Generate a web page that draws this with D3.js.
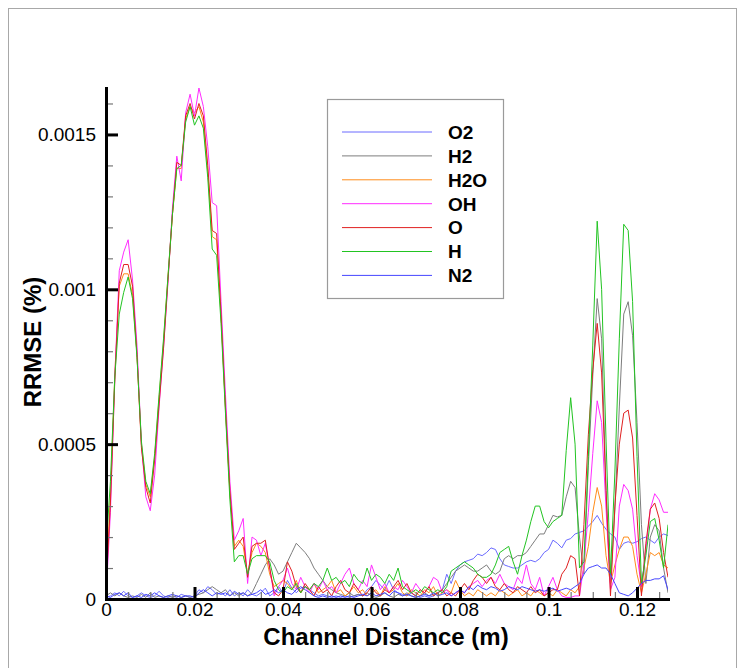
<!DOCTYPE html>
<html>
<head>
<meta charset="utf-8">
<script src="https://cdn.jsdelivr.net/npm/d3@7"></script>
<style>
  html, body { margin: 0; padding: 0; background: #fff; }
  svg { display: block; font-family: "Liberation Sans", Arial, Helvetica, sans-serif; }
</style>
</head>
<body>
<svg id="chart" width="745" height="668"></svg>
<script>
// Sample positions along the channel, in millimetres (1 mm spacing)
const distanceMm = [
  0,1,2,3,4,5,6,7,8,9,10,11,12,13,14,15,16,17,18,19,
  20,21,22,23,24,25,26,27,28,29,30,31,32,33,34,35,36,37,38,39,
  40,41,42,43,44,45,46,47,48,49,50,51,52,53,54,55,56,57,58,59,
  60,61,62,63,64,65,66,67,68,69,70,71,72,73,74,75,76,77,78,79,
  80,81,82,83,84,85,86,87,88,89,90,91,92,93,94,95,96,97,98,99,
  100,101,102,103,104,105,106,107,108,109,110,111,112,113,114,115,116,117,118,119,
  120,121,122,123,124,125,126,127
];

// RRMSE per species, in units of 1e-5 %
const O2 = [
  0.5,1,2,1,2.5,1,0.5,1,2,1,
  0.5,1,2.5,1,0.5,1,0.5,1.5,1,0.5,
  1,3,2,4,3,1.5,2,1,3,1,
  2,1,3,1.5,1,2,3.5,1,2,4,
  2,6,3.5,2,3.5,4,3,2,1,1.5,
  1,0.5,1,0.5,1,0.5,1,1.5,1,3,
  4,6,4.5,3,6,3,2,1.5,1,2,
  1,0.5,1,0.5,1,2,3,8,5,9,
  11,12,12.5,13,14.5,14,15,16.5,16,13,
  11,10.5,10,10,11,12,12.5,12,13,15,
  16,19,18,16.5,19,19.5,21,21.5,22,23.5,
  25,27,24.5,22.5,21,20,16,18,18.5,18,
  18.5,19.5,20,19,18,20,21,20.5
];
const H2 = [
  1,2,1,2,1,0.5,1,0.5,1.5,0.5,
  2,0.5,1,0.5,1,0.5,1,0.5,1,0.5,
  1,1.5,2,3,4,3,2,3,1,2,
  1,2,1,2,5,8,11,13,11,8,
  9,12,15,18,16.5,15,13,10,8,6,
  4,3,2,1.5,1,2,1,1.5,1,2,
  1,0.5,1,2,1,0.5,1.5,1,2,1,
  0.5,1,2,1,1.5,2,3,5,7,9,
  10,11,10,9,9,10,11,9,8,9,
  13,14,13,14,14,15,17,19,21,21,
  24,27,26.5,27,33,38,36,20,8,43,
  72,97,84,35,5,29,62,92,96,85,
  57,24,5,20,24,22,10,2
];
const H2O = [
  5,33,73,101,105,105,98,79,50,37,
  33,46,65,83,104,124,139,139,155,159,
  157,159,154,138,117,116,91,61,34,17,
  19,17,8,15,18,17,15,8,4,5,
  6,5,3,6,2,4,3,5,2,3,
  4,6,2,3,1,2,4,2,3,1,
  2,3,1,4,2,3,5,2,1,3,
  2,1,3,2,4,1,2,3,2,6,
  3,1,2,1,3,2,1,2,1,3,
  2,1,2,3,1,2,1,3,2,1,
  2,1,3,2,1,3,2,4,10,17,
  28,36,30,14,5,11,16,20,20,17,
  8,2,8,15,14,15,11,10
];
const OH = [
  0.5,28,72,106,112,116,103,82,50,33,
  28.5,40,62,81,102,126,143,135,157,163,
  156,165,159,146,128,127,96,66,38,19,
  22,26,5,20,19,14,18,10,1,4,
  6,10,5,3,7,4,2,5,3,6,
  3,4,2,5,8,10,5,3,6,4,
  11,7,3,5,2,4,3,6,4,2,
  5,3,2,4,7,6,2,3,1,2,
  3,2,4,5,6,4,6,7,5,8,
  5,4,3,7,5,11,5,3,7,1,
  4,7,3,1,0.5,0.5,1,1,11,28,
  47,64,57,29,3,7,30,37,35,29,
  14,4,16,29,34,32,28,28
];
const O = [
  3,31,71,102,108,108,101,79,49,36,
  31,45,63,81,103,124,141,140,156,160,
  155,160,156,140,119,118,92,62,35,16,
  18,20,7,17,18,18,19,10,2,1,
  3,12,9,4,2,5,3,1,4,2,
  3,1,4,6,3,2,5,3,1,2,
  4,2,1,3,2,4,6,3,5,2,
  1,3,2,4,1,2,3,1,2,1,
  3,5,3,6,8,7,5,7,4,3,
  5,3,2,4,3,2,4,2,3,1,
  2,3,3,8,10,14,13,1,24,53,
  74,89,73,35,1,30,50,60,61,52,
  27,1,18,29,31,26,15,7
];
const H = [
  16,38,72,92,99,104,97,78,51,38,
  34,47,66,84,104,124,139,140,154,159,
  153,156,152,136,113,111,89,60,32,12,
  14,14,8,13,14,14,14,12,6,3,
  2,4,3,5,2,4,3,5,4,6,
  10,6,7,5,6,4,8,6,5,10,
  6,8,7,5,8,6,10,4,3,2,
  3,2,4,3,2,3,2,4,9,10,
  11,12,11,10,8,7,7,8,11,15,
  16,17,12,8,14,19,25,30,30,25,
  23,25,26,27,48,65,50,10,12,46,
  82,122,100,51,8,41,84,121,119,96,
  46,5,14,25,26,19,10,24
];
const N2 = [
  1,0.5,1.5,2,1,2,0.5,1,0.5,1.5,
  1,2,1,0.5,1,1.5,1,0.5,1,1,
  0.5,2,3,2,1,2,1.5,2,1,2.5,
  1.5,2,1,1.5,2,3,1.5,2,3,2,
  3,2,1.5,3,4,3,2,1,0.5,1,
  0.5,1,0.5,1,0.5,1,0.5,1,1.5,1,
  2,1,1.5,2,1,2.5,2,1,1.5,1,
  0.5,1,1.5,1,2,1,1.5,2,1,2,
  3,2,4,3,4.5,3.5,3,4,3.5,2.5,
  3,4,3.5,3,4,3.5,3,2.5,3,2.5,
  3,3.5,2.5,3,3.5,3,4,5,8,10,
  10.5,11,10,10,8,5,2,1.5,1,2,
  3.5,5,6,6,6.5,6.5,7.5,3
];
const UNIT = 1e-5;

const speciesNames = ["O2", "H2", "H2O", "OH", "O", "H", "N2"];
const speciesValues = { O2, H2, H2O, OH, O, H, N2 };

const xTickValues = [0, 0.02, 0.04, 0.06, 0.08, 0.1, 0.12];
const xTickLabels = ["0", "0.02", "0.04", "0.06", "0.08", "0.1", "0.12"];
const xMinorTicks = [0.005, 0.01, 0.015, 0.025, 0.03, 0.035, 0.045, 0.05, 0.055,
  0.065, 0.07, 0.075, 0.085, 0.09, 0.095, 0.105, 0.11, 0.115, 0.125];
const yTickValues = [0, 0.0005, 0.001, 0.0015];
const yTickLabels = ["0", "0.0005", "0.001", "0.0015"];
const yMinorTicks = [0.0001, 0.0002, 0.0003, 0.0004, 0.0006, 0.0007, 0.0008, 0.0009,
  0.0011, 0.0012, 0.0013, 0.0014, 0.0016];

// Line colours per species
const colors = {
  O2: "#6a6aff", H2: "#7d7d7d", H2O: "#ff8c1a", OH: "#ff2cff",
  O: "#e02020", H: "#22c422", N2: "#4646ff"
};

const svg = d3.select("#chart");
const plot = { left: 106, right: 668, top: 88, bottom: 599 };

const x = d3.scaleLinear().domain([0, 0.127]).range([plot.left, plot.right]);
const y = d3.scaleLinear().domain([0, 0.00165]).range([plot.bottom, plot.top]);

// outer frame
svg.append("rect")
  .attr("x", 8.5).attr("y", 8.5).attr("width", 728).attr("height", 680)
  .attr("fill", "none").attr("stroke", "#a8a8a8").attr("stroke-width", 1);

// clip region for the curves
svg.append("clipPath").attr("id", "plotClip")
  .append("rect")
  .attr("x", plot.left).attr("y", plot.top - 20)
  .attr("width", plot.right - plot.left).attr("height", plot.bottom - plot.top + 20);

const line = d3.line()
  .x((d, i) => x(distanceMm[i] / 1000))
  .y(d => y(d * UNIT));

const curves = svg.append("g").attr("clip-path", "url(#plotClip)");
speciesNames.forEach(name => {
  curves.append("path")
    .datum(speciesValues[name])
    .attr("fill", "none")
    .attr("stroke", colors[name])
    .attr("stroke-width", 1)
    .attr("stroke-linejoin", "round")
    .attr("d", line);
});

// minor ticks (no labels)
const xMinorAxis = svg.append("g")
  .attr("transform", `translate(0,${plot.bottom})`)
  .call(d3.axisBottom(x).tickValues(xMinorTicks).tickFormat("").tickSizeInner(-7).tickSizeOuter(0));
xMinorAxis.select(".domain").remove();
xMinorAxis.selectAll(".tick text").remove();
xMinorAxis.selectAll(".tick line").attr("stroke", "#777").attr("stroke-width", 1.2);

const yMinorAxis = svg.append("g")
  .attr("transform", `translate(${plot.left},0)`)
  .call(d3.axisLeft(y).tickValues(yMinorTicks).tickFormat("").tickSizeInner(-7).tickSizeOuter(0));
yMinorAxis.select(".domain").remove();
yMinorAxis.selectAll(".tick text").remove();
yMinorAxis.selectAll(".tick line").attr("stroke", "#777").attr("stroke-width", 1.2);

// major axes
const xAxis = svg.append("g")
  .attr("transform", `translate(0,${plot.bottom})`)
  .call(d3.axisBottom(x).tickValues(xTickValues)
    .tickFormat((d, i) => xTickLabels[i]).tickSizeInner(-12).tickSizeOuter(0).tickPadding(4));
const yAxis = svg.append("g")
  .attr("transform", `translate(${plot.left},0)`)
  .call(d3.axisLeft(y).tickValues(yTickValues)
    .tickFormat((d, i) => yTickLabels[i]).tickSizeInner(-12).tickSizeOuter(0).tickPadding(10));

[xAxis, yAxis].forEach(g => {
  g.select(".domain").attr("stroke", "#000").attr("stroke-width", 3).attr("stroke-linecap", "square");
  g.selectAll(".tick line").attr("stroke", "#000").attr("stroke-width", 3);
  g.selectAll(".tick text")
    .attr("fill", "#000")
    .style("font-family", '"Liberation Sans", Arial, sans-serif')
    .style("font-size", "19px");
});

// axis titles
svg.append("text")
  .attr("x", (plot.left + plot.right) / 2 - 1).attr("y", 645)
  .attr("text-anchor", "middle")
  .style("font-size", "24px").style("font-weight", "bold")
  .text("Channel Distance (m)");

svg.append("text")
  .attr("transform", "translate(41,342) rotate(-90)")
  .attr("text-anchor", "middle")
  .style("font-size", "24px").style("font-weight", "bold")
  .text("RRMSE (%)");

// legend
const legend = svg.append("g");
legend.append("rect")
  .attr("x", 327.5).attr("y", 99.5).attr("width", 176).attr("height", 199)
  .attr("fill", "#fff").attr("stroke", "#9a9a9a").attr("stroke-width", 1.2);
speciesNames.forEach((name, i) => {
  const ly = 132 + i * 23.9;
  legend.append("line")
    .attr("x1", 342).attr("x2", 432).attr("y1", ly).attr("y2", ly)
    .attr("stroke", colors[name]).attr("stroke-width", 1);
  legend.append("text")
    .attr("x", 448).attr("y", ly + 6.8)
    .style("font-size", "19px").style("font-weight", "bold")
    .text(name);
});
</script>
</body>
</html>
